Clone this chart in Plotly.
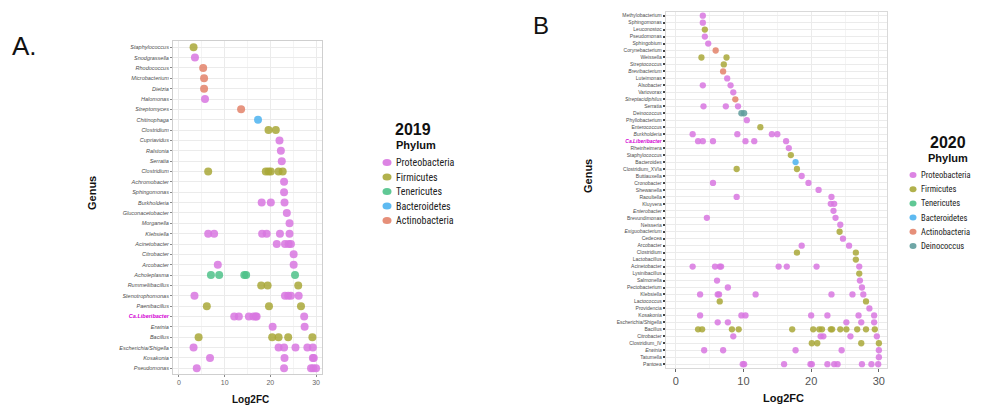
import plotly.graph_objects as go

W, H = 988, 407

# ---------------- data ----------------
PHYLUM_NAMES = {"P": "Proteobacteria", "F": "Firmicutes", "T": "Tenericutes",
                "B": "Bacteroidetes", "A": "Actinobacteria", "D": "Deinococcus"}
PHYLUM_COLORS = {"P": "#d877e0", "F": "#a9a838", "T": "#4fc28a",
                 "B": "#4cb3f0", "A": "#e3836a", "D": "#5f9c9c"}

legend_2019 = ["P", "F", "T", "B", "A"]
legend_2020 = ["P", "F", "T", "B", "A", "D"]

genus_2019 = ["Staphylococcus", "Snodgrassella", "Rhodococcus", "Microbacterium", "Dietzia",
              "Halomonas", "Streptomyces", "Chitinophaga", "Clostridium", "Cupriavidus",
              "Ralstonia", "Serratia", "Clostridium", "Achromobacter", "Sphingomonas",
              "Burkholderia", "Gluconacetobacter", "Morganella", "Klebsiella", "Acinetobacter",
              "Citrobacter", "Arcobacter", "Acholeplasma", "Rummeliibacillus", "Stenotrophomonas",
              "Paenibacillus", "Ca.Liberibacter", "Erwinia", "Bacillus", "Escherichia/Shigella",
              "Kosakonia", "Pseudomonas"]
phylum_2019 = ["F", "P", "A", "A", "A", "P", "A", "B", "F", "P",
               "P", "P", "F", "P", "P", "P", "P", "P", "P", "P",
               "P", "P", "T", "F", "P", "F", "P", "P", "F", "P", "P", "P"]
log2fc_2019 = [
    [3.2], [3.5], [5.3], [5.5], [5.5], [5.7], [13.6], [17.3], [19.6, 21.2], [22.0],
    [22.3], [22.5], [6.4, 19.0, 19.6, 20.1, 21.8, 22.7], [23.0], [23.0],
    [18.1, 20.1, 23.1], [23.6], [24.2], [6.4, 7.7, 18.2, 19.2, 22.1, 24.2],
    [21.4, 23.2, 24.0, 24.5], [25.1], [8.5, 25.1], [7.0, 8.8, 14.3, 14.7, 25.4],
    [18.0, 19.4, 26.1], [3.4, 23.2, 23.9, 24.5, 26.2], [6.1, 19.7, 26.7],
    [12.1, 13.1, 15.3, 16.3, 16.8, 17.0, 27.4], [20.5, 27.5],
    [4.3, 20.4, 21.8, 23.9, 29.2], [3.2, 21.8, 23.0, 25.5, 28.1, 29.3],
    [6.8, 23.1, 29.3, 29.5], [3.9, 23.0, 28.9, 29.4, 30.0],
]

genus_2020 = ["Methylobacterium", "Sphingomonas", "Leuconostoc", "Pseudomonas", "Sphingobium",
              "Corynebacterium", "Weissella", "Streptococcus", "Brevibacterium", "Luteimonas",
              "Alsobacter", "Variovorax", "Streptacidiphilus", "Serratia", "Deinococcus",
              "Phyllobacterium", "Enterococcus", "Burkholderia", "Ca.Liberibacter", "Rheinheimera",
              "Staphylococcus", "Bacteroides", "Clostridium_XVIa", "Buttiauxella", "Cronobacter",
              "Shewanella", "Raoultella", "Kluyvera", "Enterobacter", "Brevundimonas",
              "Neisseria", "Exiguobacterium", "Cedecea", "Arcobacter", "Clostridium",
              "Lactobacillus", "Acinetobacter", "Lysinibacillus", "Salmonella", "Pectobacterium",
              "Klebsiella", "Lactococcus", "Providencia", "Kosakonia", "Escherichia/Shigella",
              "Bacillus", "Citrobacter", "Clostridium_IV", "Erwinia", "Tatumella", "Pantoea"]
phylum_2020 = ["P", "P", "F", "P", "P", "A", "F", "F", "A", "P",
               "P", "P", "A", "P", "D", "P", "F", "P", "P", "P",
               "F", "B", "F", "P", "P", "P", "P", "P", "P", "P",
               "P", "F", "P", "P", "F", "F", "P", "F", "P", "P",
               "P", "F", "P", "P", "P", "F", "P", "F", "P", "P", "P"]
log2fc_2020 = [
    [4.0], [4.0], [4.3], [4.3], [4.8], [5.9], [3.8, 7.5], [7.1], [7.0], [7.6],
    [4.0, 8.1], [8.5], [8.8], [4.1, 7.4, 9.2], [9.7, 10.1], [10.5], [12.5],
    [2.5, 9.1, 14.2, 15.0], [3.3, 4.0, 5.5, 10.3, 11.6, 16.3], [16.7], [17.0], [17.7],
    [9.0, 17.9], [18.6], [5.5, 19.6], [21.1], [9.0, 23.0], [22.9, 23.4], [23.3],
    [4.6, 23.6], [24.3], [24.2], [24.7], [18.6, 25.6], [17.9, 26.6], [26.6],
    [2.5, 5.8, 6.5, 6.7, 15.2, 16.4, 20.8, 27.1], [27.1], [6.1, 27.2], [7.7, 27.5],
    [3.6, 6.2, 6.4, 11.8, 23.0, 26.1, 27.7], [6.5, 28.1], [28.6],
    [3.6, 9.7, 10.3, 20.0, 22.4, 27.0, 29.3], [6.2, 7.7, 25.2, 27.4, 29.3],
    [3.3, 3.9, 8.3, 9.3, 17.2, 20.3, 21.2, 21.6, 22.9, 23.1, 24.3, 25.2, 26.8, 28.1, 29.4],
    [8.5, 21.4, 21.8, 25.8, 29.7], [20.1, 20.9, 27.4, 30.0],
    [4.2, 7.0, 17.7, 24.5, 30.0], [30.0],
    [9.9, 10.1, 16.0, 19.9, 20.1, 22.4, 23.4, 23.9, 27.5, 28.9, 29.9],
]

x_ticks = [0, 10, 20, 30]
highlight = "Ca.Liberibacter"
italic_2020 = {"Brevibacterium", "Streptacidiphilus", "Burkholderia", "Enterobacter",
               "Exiguobacterium", "Erwinia", "Ca.Liberibacter"}

# ---------------- helpers ----------------
def px(p):
    return p / W

def py(p):
    return 1 - p / H

FONT = "Liberation Sans, Arial, sans-serif"
NARROW = "Liberation Sans Narrow, Arial Narrow, Roboto Condensed, Liberation Sans, sans-serif"

fig = go.Figure()

def add_panel(genera, phyla, values, legend_codes, xa, ya, msize):
    for code in legend_codes:
        xs, ys = [], []
        for i, (g, ph, vals) in enumerate(zip(genera, phyla, values)):
            if ph == code:
                xs.extend(vals)
                ys.extend([i] * len(vals))
        if not xs:
            continue
        fig.add_trace(go.Scatter(
            x=xs, y=ys, mode="markers", xaxis=xa, yaxis=ya,
            name=PHYLUM_NAMES[code], showlegend=False,
            marker=dict(size=msize, color=PHYLUM_COLORS[code], opacity=0.85,
                        line=dict(width=0)),
            hovertemplate="%{x}<extra>" + PHYLUM_NAMES[code] + "</extra>"))

add_panel(genus_2019, phylum_2019, log2fc_2019, legend_2019, "x", "y", 8)
add_panel(genus_2020, phylum_2020, log2fc_2020, legend_2020, "x2", "y2", 6.3)

def ticktext(genera, italic_set=None):
    out = []
    for g in genera:
        if g == highlight:
            out.append("<b><i><span style='color:#d400d4'>%s</span></i></b>" % g)
        elif italic_set is None or g in italic_set:
            out.append("<i>%s</i>" % g)
        else:
            out.append(g)
    return out

grid = "#ebebeb"
minor_grid = "#f4f4f4"
tickc = "#4d4d4d"

fig.update_layout(
    width=W, height=H, margin=dict(l=0, r=0, t=0, b=0),
    paper_bgcolor="white", plot_bgcolor="white",
    font=dict(family=FONT, color="#222"),
    xaxis=dict(domain=[px(173), px(322)], range=[-1.3, 31.3], anchor="y",
               tickvals=x_ticks, ticktext=[str(v) for v in x_ticks],
               tickfont=dict(size=7, color="#666"), ticks="outside", ticklen=2,
               tickcolor="#888", showgrid=True, gridcolor=grid, zeroline=False,
               showline=True, mirror=True, linecolor="#cfcfcf", linewidth=1,
               minor=dict(dtick=5, tick0=0, showgrid=True, gridcolor=minor_grid)),
    yaxis=dict(domain=[py(374), py(41)], range=[len(genus_2019) - 0.45, -0.6], anchor="x",
               tickvals=list(range(len(genus_2019))), ticktext=ticktext(genus_2019),
               tickfont=dict(size=5.5, color=tickc), ticks="outside", ticklen=2,
               tickcolor="#888", showgrid=True, gridcolor=grid, zeroline=False,
               showline=True, mirror=True, linecolor="#cfcfcf", linewidth=1),
    xaxis2=dict(domain=[px(665.7), px(887)], range=[-1.48, 31.2], anchor="y2",
                tickvals=x_ticks, ticktext=[str(v) for v in x_ticks],
                tickfont=dict(size=11, color="#555"), ticks="outside", ticklen=3,
                tickcolor="#666", showgrid=True, gridcolor=grid, zeroline=False,
                showline=True, mirror=True, linecolor="#d9d9d9", linewidth=1,
                minor=dict(dtick=5, tick0=0, showgrid=True, gridcolor=minor_grid)),
    yaxis2=dict(domain=[py(368), py(11.7)], range=[len(genus_2020) - 0.45, -0.57], anchor="x2",
                tickvals=list(range(len(genus_2020))), ticktext=ticktext(genus_2020, italic_2020),
                tickfont=dict(size=5, color=tickc), ticks="outside", ticklen=2, tickwidth=2,
                tickcolor="#444", showgrid=True, gridcolor=grid, zeroline=False,
                showline=True, mirror=True, linecolor="#d9d9d9", linewidth=1),
)

ann = []
def text(x, y, s, size, bold=False, angle=0, xanchor="center", color="#111", family=FONT):
    ann.append(dict(x=px(x), y=py(y), xref="paper", yref="paper", text=("<b>%s</b>" % s) if bold else s,
                    showarrow=False, xanchor=xanchor, yanchor="middle", textangle=angle,
                    font=dict(size=size, color=color, family=family)))

# panel labels and axis titles
text(24, 46, "A.", 26)
text(541, 25, "B", 24)
text(92, 193, "Genus", 11, bold=True, angle=-90)
text(588, 176, "Genus", 11, bold=True, angle=-90)
text(250, 399, "Log2FC", 10, bold=True)
text(783, 398, "Log2FC", 11, bold=True)

shapes = []
def legend(codes, title, title_xy, sub_xy, dot_x, y0, step, fsize, dot_w, dot_h, title_size):
    text(title_xy[0], title_xy[1], title, title_size, bold=True)
    text(sub_xy[0], sub_xy[1], "Phylum", 11, bold=True)
    for k, code in enumerate(codes):
        yy = y0 + k * step
        shapes.append(dict(type="circle", xref="paper", yref="paper",
                           xsizemode="pixel", ysizemode="pixel",
                           xanchor=px(dot_x), yanchor=py(yy),
                           x0=-dot_w / 2, x1=dot_w / 2, y0=-dot_h / 2, y1=dot_h / 2,
                           fillcolor=PHYLUM_COLORS[code], opacity=0.9, line=dict(width=0)))
        text(dot_x + dot_w / 2 + 2, yy, PHYLUM_NAMES[code], fsize, xanchor="left",
             color="#222", family=NARROW)

legend(legend_2019, "2019", (413, 129), (416, 145), 387, 162.5, 14.5, 10, 9, 7, 16)
legend(legend_2020, "2020", (948, 143), (948, 158), 913, 175, 14.2, 8.5, 7, 6, 16)

fig.update_layout(annotations=ann, shapes=shapes)

fig.write_html("out.html", config={"displayModeBar": False},
               post_script="document.body.style.margin='0px';document.body.style.overflow='hidden';")
